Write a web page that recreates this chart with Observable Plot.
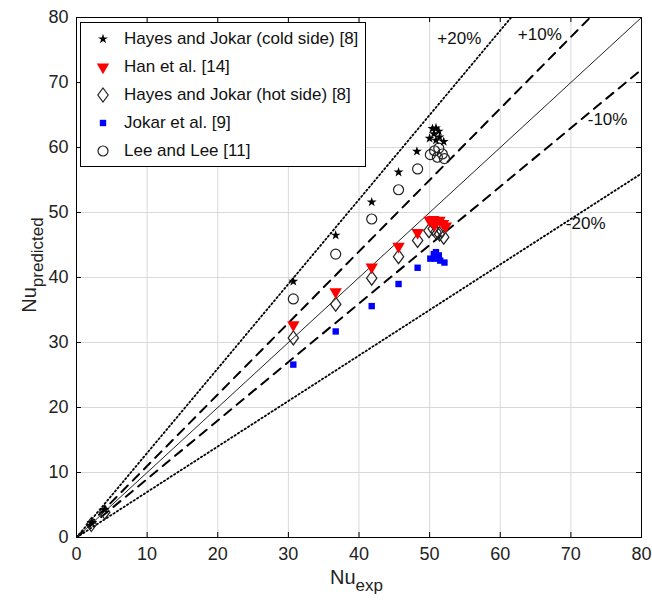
<!DOCTYPE html>
<html>
<head>
<meta charset="utf-8">
<script src="https://cdn.jsdelivr.net/npm/d3@7"></script>
<script src="https://cdn.jsdelivr.net/npm/@observablehq/plot@0.6"></script>
<style>
  html, body { margin: 0; padding: 0; background: #fff; }
  #wrap { position: relative; width: 652px; height: 610px; font-family: "Liberation Sans", Arial, sans-serif; color: #222; }
  .legend { position: absolute; left: 80px; top: 22px; width: 286px; height: 145px; border: 1px solid #000; background: #fff; box-sizing: border-box; }
  .row { position: absolute; left: 0; height: 28px; display: flex; align-items: center; font-size: 17px; color: #111; white-space: nowrap; }
  .row svg { width: 26px; height: 20px; margin-left: 9px; margin-right: 8px; }
  .xlab { position: absolute; left: 330px; top: 566px; font-size: 20px; color: #222; }
  .ylab { position: absolute; left: 0; top: 0; font-size: 20px; color: #222; transform-origin: 0 0; white-space: nowrap; }
  sub { font-size: 17px; vertical-align: -7px; line-height: 0; }
</style>
</head>
<body>
<div id="wrap"></div>
<script>
// Nusselt number: experimental vs. predicted
const xTicks = [0, 10, 20, 30, 40, 50, 60, 70, 80];
const yTicks = [0, 10, 20, 30, 40, 50, 60, 70, 80];

const seriesNames = [
  "Hayes and Jokar (cold side) [8]",
  "Han et al. [14]",
  "Hayes and Jokar (hot side) [8]",
  "Jokar et al. [9]",
  "Lee and Lee [11]"
];

const coldSide = [
  [2.1, 2.3], [4.0, 4.3], [30.7, 39.4], [36.7, 46.5], [41.8, 51.6], [45.6, 56.2], [48.2, 59.4],
  [50.4, 62.9], [50.9, 63.0], [51.3, 62.5], [50.6, 62.1], [50.0, 61.4], [51.4, 61.6],
  [52.0, 60.9], [50.9, 61.1]
];
const hanEtAl = [
  [30.7, 32.7], [36.7, 37.8], [41.8, 41.6], [45.6, 44.8], [48.3, 46.9],
  [50.0, 48.8], [50.5, 48.9], [50.9, 48.6], [51.4, 48.8], [51.9, 48.3], [52.3, 47.9], [50.7, 48.1]
];
const hotSide = [
  [2.1, 2.0], [4.0, 3.9], [30.7, 30.7], [36.7, 35.9], [41.8, 39.9], [45.6, 43.2], [48.3, 45.7],
  [49.9, 47.2], [50.5, 47.5], [50.9, 47.0], [51.4, 46.7], [52.0, 46.2], [51.7, 47.2]
];
const jokarEtAl = [
  [30.7, 26.6], [36.7, 31.7], [41.8, 35.6], [45.6, 39.0], [48.3, 41.5],
  [50.1, 42.9], [50.6, 43.6], [50.9, 43.9], [51.3, 43.4], [51.5, 42.6], [52.1, 42.3], [50.8, 42.9]
];
const leeAndLee = [
  [30.7, 36.7], [36.7, 43.6], [41.8, 49.0], [45.6, 53.5], [48.3, 56.7],
  [50.1, 58.9], [50.7, 59.5], [51.3, 59.9], [51.1, 58.5], [51.8, 59.0], [52.1, 58.3]
];

// reference lines y = k * x
const solidSlope = [1];
const dashedSlopes = [1.1, 0.9];
const dottedSlopes = [1.3, 0.7];

const bandLabels = [
  {text: "+20%", x: 54.2, y: 76.8},
  {text: "+10%", x: 65.6, y: 77.4},
  {text: "-10%", x: 75.2, y: 64.3},
  {text: "-20%", x: 72.1, y: 48.3}
];

const toRows = (arr) => arr.map(([x, y]) => ({x, y}));
const lineRows = (slopes) => slopes.flatMap((k) => [0, 80].map((x) => ({k, x, y: k * x})));

// downward pointing triangle
const triangleDown = {
  draw(context, size) {
    const s = Math.sqrt(size / (Math.sqrt(3) / 4));
    const h = s * Math.sqrt(3) / 2;
    context.moveTo(-s / 2, -h / 3);
    context.lineTo(s / 2, -h / 3);
    context.lineTo(0, 2 * h / 3);
    context.closePath();
  }
};
// slightly tall rhombus
const rhombus = {
  draw(context, size) {
    const a = Math.sqrt(size / (2 * 1.35));
    const b = a * 1.35;
    context.moveTo(0, -b);
    context.lineTo(a, 0);
    context.lineTo(0, b);
    context.lineTo(-a, 0);
    context.closePath();
  }
};

const W = 652, H = 610, mT = 17, mB = 73, mL = 76, mR = 11;
const innerH = H - mT - mB, innerW = W - mL - mR;
const tick = 5;

const chart = Plot.plot({
  width: W,
  height: H,
  marginTop: mT,
  marginBottom: mB,
  marginLeft: mL,
  marginRight: mR,
  style: {fontFamily: "'Liberation Sans', Arial, sans-serif", fontSize: "18px", color: "#222", background: "#fff"},
  x: {domain: [0, 80]},
  y: {domain: [0, 80]},
  marks: [
    Plot.gridX(xTicks, {stroke: "#d9d9d9", strokeOpacity: 1}),
    Plot.gridY(yTicks, {stroke: "#d9d9d9", strokeOpacity: 1}),
    Plot.line(lineRows(dottedSlopes), {x: "x", y: "y", z: "k", stroke: "#000", strokeWidth: 1.8, strokeDasharray: "1.4,2.6", clip: true}),
    Plot.line(lineRows(dashedSlopes), {x: "x", y: "y", z: "k", stroke: "#000", strokeWidth: 2, strokeDasharray: "9,7", clip: true}),
    Plot.line(lineRows(solidSlope), {x: "x", y: "y", z: "k", stroke: "#222", strokeWidth: 1, clip: true}),
    Plot.text(bandLabels, {x: "x", y: "y", text: "text", fill: "#111", fontSize: 17}),
    Plot.dot(toRows(jokarEtAl), {x: "x", y: "y", symbol: "square", r: 3.6, fill: "#0000ff"}),
    Plot.dot(toRows(hotSide), {x: "x", y: "y", symbol: rhombus, r: 4.8, stroke: "#222", strokeWidth: 1.2, fill: "none"}),
    Plot.dot(toRows(hanEtAl), {x: "x", y: "y", symbol: triangleDown, r: 4.6, fill: "#ff0000"}),
    Plot.dot(toRows(leeAndLee), {x: "x", y: "y", symbol: "circle", r: 5, stroke: "#222", strokeWidth: 1.2, fill: "none"}),
    Plot.dot(toRows(coldSide), {x: "x", y: "y", symbol: "star", r: 3.1, fill: "#000"}),
    // inward ticks on all four sides
    Plot.tickX(xTicks, {x: (d) => d, insetTop: innerH - tick, stroke: "#000"}),
    Plot.tickX(xTicks, {x: (d) => d, insetBottom: innerH - tick, stroke: "#000"}),
    Plot.tickY(yTicks, {y: (d) => d, insetRight: innerW - tick, stroke: "#000"}),
    Plot.tickY(yTicks, {y: (d) => d, insetLeft: innerW - tick, stroke: "#000"}),
    Plot.axisX(xTicks, {tickSize: 0, tickPadding: 10, label: null, fill: "#222"}),
    Plot.axisY(yTicks, {tickSize: 0, tickPadding: 8, label: null, fill: "#222"}),
    Plot.frame({stroke: "#000", strokeWidth: 1})
  ]
});

const wrap = document.getElementById("wrap");
wrap.appendChild(chart);

// legend
const legendMarks = [
  {symbol: d3.symbolStar, r: 3.1, fill: "#000", stroke: "none"},
  {symbol: triangleDown, r: 4.6, fill: "#ff0000", stroke: "none"},
  {symbol: rhombus, r: 4.8, fill: "none", stroke: "#222"},
  {symbol: d3.symbolSquare, r: 3.6, fill: "#0000ff", stroke: "none"},
  {symbol: d3.symbolCircle, r: 5, fill: "none", stroke: "#222"}
];
const legend = document.createElement("div");
legend.className = "legend";
seriesNames.forEach((name, i) => {
  const row = document.createElement("div");
  row.className = "row";
  row.style.top = (2 + i * 28) + "px";
  const m = legendMarks[i];
  const path = d3.symbol(m.symbol, m.r * m.r * Math.PI)();
  row.innerHTML = `<svg viewBox="-13 -10 26 20"><path d="${path}" fill="${m.fill}" stroke="${m.stroke}" stroke-width="1.2"></path></svg><span>${name}</span>`;
  legend.appendChild(row);
});
wrap.appendChild(legend);

// axis titles with subscripts
const xl = document.createElement("div");
xl.className = "xlab";
xl.innerHTML = "Nu<sub>exp</sub>";
wrap.appendChild(xl);

const yl = document.createElement("div");
yl.className = "ylab";
yl.innerHTML = "Nu<sub>predicted</sub>";
wrap.appendChild(yl);
const yw = yl.getBoundingClientRect().width;
yl.style.transform = `translate(18px, ${265 + yw / 2}px) rotate(-90deg)`;
</script>
</body>
</html>
